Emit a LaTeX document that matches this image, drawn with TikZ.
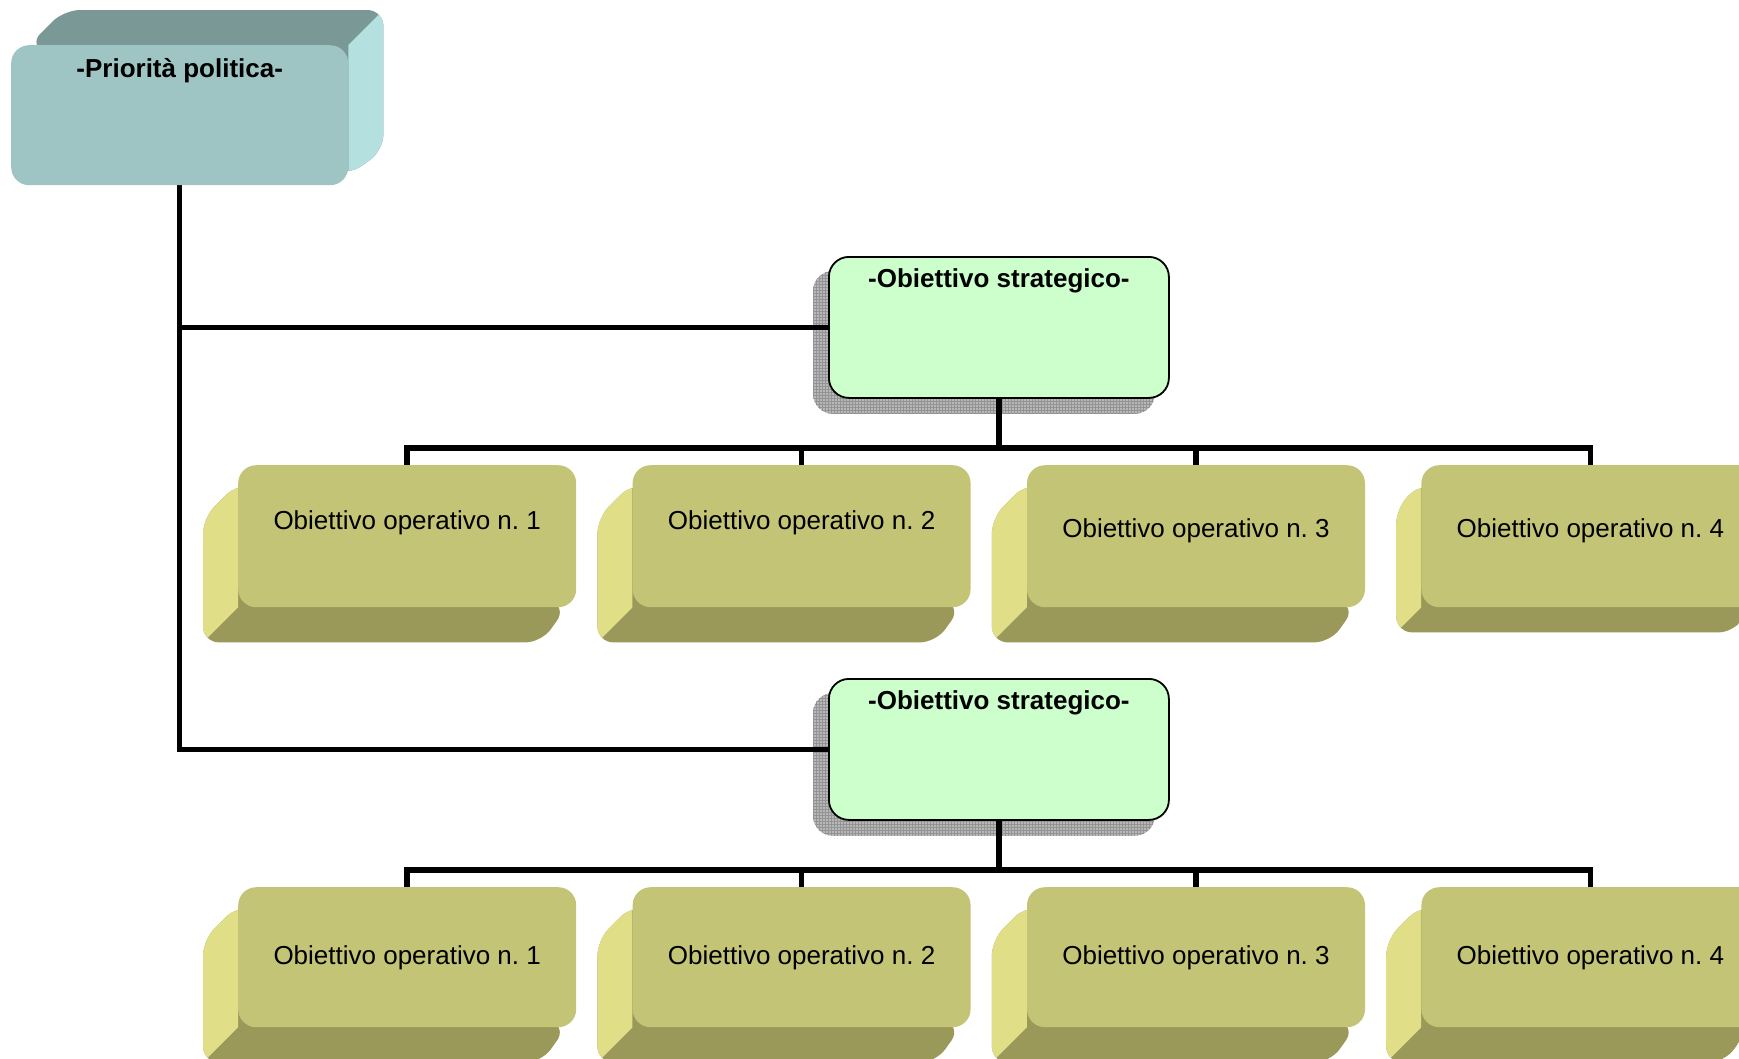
\documentclass[tikz,border=0pt]{standalone}
\usepackage{fontspec}
\setmainfont{Liberation Sans}
\frenchspacing
\usetikzlibrary{positioning,backgrounds,patterns}
\definecolor{prioface}{HTML}{9EC4C4}
\definecolor{priotop}{HTML}{7A9896}
\definecolor{prioside}{HTML}{B4E0E0}
\definecolor{stratface}{HTML}{CCFFCC}
\definecolor{stratshadow}{HTML}{B8B8B8}
\definecolor{opface}{HTML}{C3C475}
\definecolor{opside}{HTML}{E0DF88}
\definecolor{opbottom}{HTML}{9A995A}

\begin{document}
\begin{tikzpicture}[
  x=1pt, y=-1pt,
  font=\fontsize{26}{31}\selectfont,
  priobox/.style={fill=prioface, rounded corners=18pt, inner sep=0pt, minimum width=337pt,
                  text height=32pt, text depth=108pt, font=\fontsize{26}{31}\selectfont\bfseries},
  stratbox/.style={draw=black, line width=1.8pt, fill=stratface, rounded corners=20pt, inner sep=0pt,
                   minimum width=340pt, text height=31pt, text depth=110pt,
                   font=\fontsize{26}{31}\selectfont\bfseries},
  opbox/.style={fill=opface, rounded corners=18pt, inner sep=0pt, minimum width=338pt,
                text height=64pt, text depth=78pt},
  conn/.style={line width=5.5pt, black},
  stratshade/.style={rounded corners=20pt, preaction={fill=stratshadow}, pattern=grid,
                     pattern color=gray!85},
  node distance=56pt
]
\useasboundingbox (0,0) rectangle (1739,1058);
% ----- top: political priority and the two strategic objectives -----
\node[priobox, anchor=north west] (prio) at (11,45) {-Priorità politica-};
\node[stratbox, anchor=north west] (s1) at (828,256) {-Obiettivo strategico-};
\node[stratbox, anchor=north west] (s2) at (828,678) {-Obiettivo strategico-};
% ----- operational objectives, first row -----
\node[opbox, anchor=north west] (o11) at (238,465) {Obiettivo operativo n. 1};
\node[opbox, right=of o11] (o12) {Obiettivo operativo n. 2};
\node[opbox, right=of o12, text height=72pt, text depth=70pt] (o13) {Obiettivo operativo n. 3};
\node[opbox, right=of o13, text height=72pt, text depth=70pt] (o14) {Obiettivo operativo n. 4};
% ----- operational objectives, second row -----
\node[opbox, anchor=north west, text height=77pt, text depth=63pt] (o21) at (238,887) {Obiettivo operativo n. 1};
\node[opbox, right=of o21, text height=77pt, text depth=63pt] (o22) {Obiettivo operativo n. 2};
\node[opbox, right=of o22, text height=77pt, text depth=63pt] (o23) {Obiettivo operativo n. 3};
\node[opbox, right=of o23, text height=77pt, text depth=63pt] (o24) {Obiettivo operativo n. 4};
\begin{scope}[on background layer]
% ----- shadows and 3d sides -----
\foreach \s in {s1,s2}{\path[stratshade] ([shift={(-15,15)}]\s.north west) rectangle ([shift={(-15,15)}]\s.south east);}
\begin{scope}
  \clip[rounded corners=16pt] ([shift={(18,0)}]prio.north west) -- ([shift={(53,-35)}]prio.north west)
    -- ([shift={(35,-35)}]prio.north east) -- ([shift={(35,-35)}]prio.south east)
    -- ([shift={(0,-10)}]prio.south east) -- (prio.center) -- cycle;
  \fill[priotop] ([shift={(-5,-45)}]prio.north west) rectangle ([shift={(45,5)}]prio.south east);
  \fill[prioside] (prio.north east) -- ([shift={(45,-45)}]prio.north east)
    -- ([shift={(45,10)}]prio.south east) -- ([shift={(0,10)}]prio.south east) -- cycle;
\end{scope}
\foreach \o/\d in {o11/35,o12/35,o13/35,o14/25,o21/35,o22/35,o23/35,o24/35}{
  \begin{scope}
    \clip[rounded corners=16pt] ([shift={(0,18)}]\o.north west) -- ([shift={(-\d,\d+18)}]\o.north west)
      -- ([shift={(-\d,\d)}]\o.south west) -- ([shift={(-\d,\d)}]\o.south east)
      -- ([shift={(-10,0)}]\o.south east) -- (\o.center) -- cycle;
    \fill[opbottom] ([shift={(-\d-5,-5)}]\o.north west) rectangle ([shift={(5,\d+5)}]\o.south east);
    \fill[opside] ([shift={(0,-10)}]\o.north west) -- ([shift={(-\d-10,-10)}]\o.north west)
      -- ([shift={(-\d-10,\d+10)}]\o.south west) -- (\o.south west) -- cycle;
  \end{scope}
}
% ----- connectors -----
\draw[conn] (prio.south) -- (prio.south |- s2.west) -- (s2.west);
\draw[conn] (prio.south |- s1.west) -- (s1.west);
\foreach \r in {1,2}{
  \foreach \i in {1,...,4}{\draw[conn] (s\r.south) -- ++(0,49) -| (o\r\i.north);}
}
\end{scope}
\end{tikzpicture}
\end{document}
